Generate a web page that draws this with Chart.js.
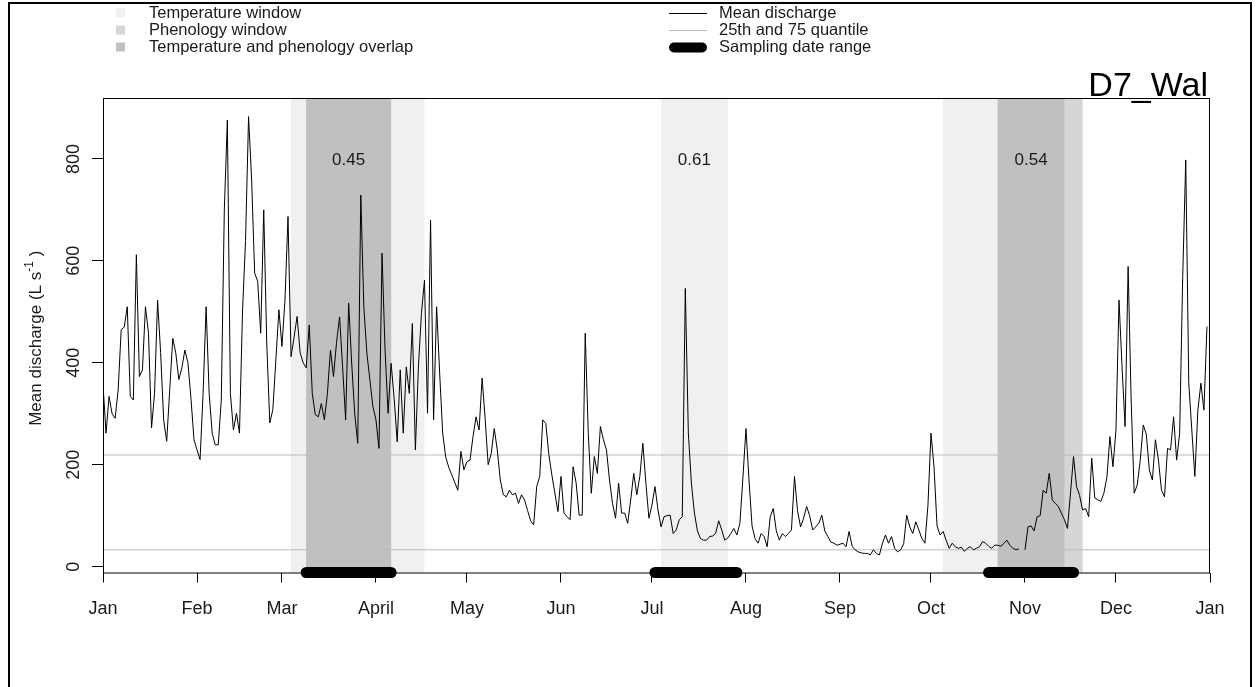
<!DOCTYPE html>
<html>
<head>
<meta charset="utf-8">
<title>D7_Wal mean discharge</title>
<script src="https://cdn.jsdelivr.net/npm/chart.js@4.4.1/dist/chart.umd.min.js"></script>
<style>
  html, body { margin: 0; padding: 0; background: #fff; }
  #wrap { width: 1259px; height: 687px; }
</style>
</head>
<body>
<div id="wrap"><canvas id="dischargeChart" width="1259" height="687"></canvas></div>
<script>
// daily mean discharge (L s-1), one array per month
const jan = [357, 262, 334, 300, 291, 347, 465, 470, 510, 334, 327, 612, 373, 386, 510, 458, 272, 340, 523, 420,
             288, 246, 347, 448, 419, 367, 390, 425, 400, 330, 249];
const feb = [229, 210, 340, 510, 340, 262, 239, 239, 327, 700, 876, 340, 268, 301, 262, 500, 640, 883, 760,
             576, 560, 458, 700, 437, 282, 308, 406, 504];
const mar = [432, 523, 687, 412, 450, 491, 420, 400, 390, 474, 340, 298, 294, 320, 288, 340, 425, 373, 440, 490, 392,
             288, 517, 399, 300, 242, 729, 510, 419, 366, 314];
const apr = [288, 232, 615, 425, 301, 399, 330, 245, 386, 262, 392, 340, 477, 229, 392, 497, 562, 301, 680, 288,
             510, 380, 262, 215, 195, 180, 165, 150, 226, 190];
const may = [206, 209, 255, 294, 268, 370, 290, 200, 222, 271, 229, 170, 141, 137, 150, 141, 144, 124, 141, 131,
             110, 90, 82, 157, 177, 288, 281, 220, 180, 144, 108];
const jun = [177, 105, 98, 92, 196, 164, 101, 101, 458, 262, 144, 216, 183, 275, 249, 229, 170, 124, 95,
             164, 105, 105, 85, 131, 183, 141, 177, 242, 164, 95];
const jul = [121, 157, 111, 78, 98, 100, 101, 65, 72, 92, 98, 546, 262, 164, 105, 70, 55, 52, 52,
             59, 60, 65, 90, 72, 52, 56, 65, 75, 62, 85, 175];
const aug = [271, 170, 80, 55, 46, 65, 59, 39, 98, 114, 70, 52, 65, 59, 65, 72, 177, 110,
             78, 95, 118, 100, 72, 78, 85, 101, 70, 59, 48, 46, 42];
const sep = [44, 46, 39, 69, 40, 33, 29, 27, 26, 26, 23, 33, 26, 23, 46, 62, 46,
             59, 36, 29, 33, 45, 101, 78, 65, 88, 72, 55, 46, 120];
const oct = [262, 196, 80, 62, 69, 52, 36, 46, 39, 36, 38, 30, 36, 39, 33, 36, 39,
             49, 46, 40, 36, 42, 42, 40, 45, 52, 42, 36, 33, 35, null];
const nov = [33, 78, 80, 70, 98, 100, 150, 144, 183, 131, 124, 118, 105, 92, 75, 144,
             216, 157, 140, 111, 114, 98, 213, 135, 131, 128, 144, 175, 255, 196];
const dec = [268, 523, 392, 275, 589, 327, 144, 160, 209, 278, 260, 190, 170, 249, 209, 150,
             137, 232, 229, 294, 209, 262, 569, 798, 360, 268, 177, 307, 360, 307, 471];

// axis ticks (day of year)
const monthStarts = [0, 31, 59, 90, 120, 151, 181, 212, 243, 273, 304, 334, 365];
const monthLabels = ["Jan", "Feb", "Mar", "April", "May", "Jun", "Jul", "Aug", "Sep", "Oct", "Nov", "Dec", "Jan"];
const yTicks = [0, 200, 400, 600, 800];

// 25th and 75th quantile of discharge
const quantiles = [33, 219];

// windows as [first day, last day]
const tempWindows = [[62, 106], [184, 206], [277, 317]];
const phenoWindows = [[67, 95], [295, 323]];
const samplingRanges = [[67, 95], [182, 209], [292, 320]];
const corrValues = ["0.45", "0.61", "0.54"];

const siteName = "D7_Wal";

const TEMP_COL = "#f0f0f0";
const PHENO_COL = "#d6d6d6";
const OVERLAP_COL = "#c0c0c0";
const QUANT_COL = "#bdbdbd";
const TEXT_COL = "#1a1a1a";
const FONT = "'Liberation Sans', Arial, sans-serif";

const Y_MIN = -11.5, Y_MAX = 919.5;

const discharge = [].concat(jan, feb, mar, apr, may, jun, jul, aug, sep, oct, nov, dec);

function overlapOf(t) {
  for (const p of phenoWindows) {
    const lo = Math.max(t[0], p[0]), hi = Math.min(t[1], p[1]);
    if (hi > lo) return [lo, hi];
  }
  return null;
}

const windowPlugin = {
  id: "windows",
  beforeDatasetsDraw(chart) {
    const { ctx, chartArea: a, scales: { x } } = chart;
    ctx.save();
    const band = (from, to, col) => {
      const x0 = x.getPixelForValue(from), x1 = x.getPixelForValue(to);
      ctx.fillStyle = col;
      ctx.fillRect(x0, a.top, x1 - x0, a.bottom - a.top);
    };
    tempWindows.forEach(w => band(w[0], w[1], TEMP_COL));
    phenoWindows.forEach(w => band(w[0], w[1], PHENO_COL));
    tempWindows.forEach(w => {
      const o = overlapOf(w);
      if (o) band(o[0], o[1], OVERLAP_COL);
    });
    ctx.restore();
  },
  afterDatasetsDraw(chart) {
    const { ctx, chartArea: a, scales: { x, y } } = chart;
    ctx.save();
    // plot box
    ctx.strokeStyle = "#000";
    ctx.lineWidth = 1;
    ctx.strokeRect(a.left + 0.5, a.top + 0.5, a.right - a.left - 1, a.bottom - a.top);
    // correlation labels
    ctx.fillStyle = TEXT_COL;
    ctx.font = "17px " + FONT;
    ctx.textAlign = "center";
    ctx.textBaseline = "middle";
    tempWindows.forEach((w, i) => {
      const o = overlapOf(w) || w;
      ctx.fillText(corrValues[i], x.getPixelForValue((o[0] + o[1]) / 2), y.getPixelForValue(797));
    });
    ctx.restore();
  },
  afterDraw(chart) {
    const { ctx, chartArea: a, scales: { y } } = chart;
    ctx.save();
    ctx.fillStyle = TEXT_COL;

    // y tick labels, rotated like R's default
    ctx.font = "18px " + FONT;
    ctx.textAlign = "center";
    ctx.textBaseline = "middle";
    yTicks.forEach(v => {
      ctx.save();
      ctx.translate(74, y.getPixelForValue(v));
      ctx.rotate(-Math.PI / 2);
      ctx.fillText(String(v), 0, 0);
      ctx.restore();
    });

    // y axis title with superscript
    ctx.save();
    ctx.translate(35, (a.top + a.bottom) / 2 + 3);
    ctx.rotate(-Math.PI / 2);
    const main = "Mean discharge (L s", sup = "-1", tail = " )";
    ctx.font = "17px " + FONT;
    const wMain = ctx.measureText(main).width, wTail = ctx.measureText(tail).width;
    ctx.font = "12px " + FONT;
    const wSup = ctx.measureText(sup).width;
    let cx = -(wMain + wSup + wTail) / 2;
    ctx.textAlign = "left";
    ctx.textBaseline = "alphabetic";
    ctx.font = "17px " + FONT;
    ctx.fillText(main, cx, 6);
    cx += wMain;
    ctx.font = "12px " + FONT;
    ctx.fillText(sup, cx, -2);
    cx += wSup;
    ctx.font = "17px " + FONT;
    ctx.fillText(tail, cx, 6);
    ctx.restore();

    // legends
    const rows = [13, 30, 47];
    ctx.font = "16.5px " + FONT;
    ctx.textAlign = "left";
    ctx.textBaseline = "middle";
    const fillItems = [["Temperature window", TEMP_COL], ["Phenology window", PHENO_COL],
                       ["Temperature and phenology overlap", OVERLAP_COL]];
    fillItems.forEach((it, i) => {
      ctx.fillStyle = it[1];
      ctx.fillRect(116, rows[i] - 4.5, 9, 9);
      ctx.fillStyle = TEXT_COL;
      ctx.fillText(it[0], 149, rows[i]);
    });
    const lineItems = [["Mean discharge", "#000", 1, "butt"], ["25th and 75 quantile", QUANT_COL, 1, "butt"],
                       ["Sampling date range", "#000", 10, "round"]];
    lineItems.forEach((it, i) => {
      ctx.strokeStyle = it[1];
      ctx.lineWidth = it[2];
      ctx.lineCap = it[3];
      ctx.beginPath();
      const pad = it[3] === "round" ? 5 : 0;
      ctx.moveTo(669 + pad, rows[i] + 0.5);
      ctx.lineTo(707 - pad, rows[i] + 0.5);
      ctx.stroke();
      ctx.fillStyle = TEXT_COL;
      ctx.fillText(it[0], 719, rows[i]);
    });

    // site name
    ctx.font = "34px " + FONT;
    ctx.textAlign = "right";
    ctx.textBaseline = "alphabetic";
    ctx.fillStyle = "#000";
    ctx.fillText(siteName, a.right - 2, a.top - 2);

    // outer frame
    ctx.strokeStyle = "#000";
    ctx.lineWidth = 2;
    ctx.strokeRect(9, 3, 1242, 720);
    ctx.restore();
  }
};

const quantileSets = quantiles.map(q => ({
  label: "25th and 75 quantile",
  data: [{ x: 0, y: q }, { x: 365, y: q }],
  borderColor: QUANT_COL,
  borderWidth: 1,
  pointRadius: 0,
  order: 3
}));

const samplingSets = samplingRanges.map(r => ({
  label: "Sampling date range",
  data: [{ x: r[0], y: Y_MIN }, { x: r[1], y: Y_MIN }],
  borderColor: "#000",
  borderWidth: 11,
  borderCapStyle: "round",
  pointRadius: 0,
  clip: false,
  order: 0
}));

const ctx = document.getElementById("dischargeChart");

new Chart(ctx, {
  type: "line",
  data: {
    datasets: [
      ...samplingSets,
      {
        label: "Mean discharge",
        data: discharge.map((v, i) => ({ x: i, y: v })),
        borderColor: "#000",
        borderWidth: 1,
        pointRadius: 0,
        tension: 0,
        spanGaps: false,
        order: 1
      },
      ...quantileSets
    ]
  },
  options: {
    responsive: false,
    animation: false,
    layout: { padding: { left: 0, right: 49, top: 98, bottom: 0 } },
    plugins: {
      legend: { display: false },
      tooltip: { enabled: false }
    },
    scales: {
      x: {
        type: "linear",
        min: 0,
        max: 365,
        afterBuildTicks: s => { s.ticks = monthStarts.map(v => ({ value: v })); },
        afterFit: s => { s.height = 114.5; },
        ticks: {
          autoSkip: false,
          maxRotation: 0,
          padding: 16,
          color: TEXT_COL,
          font: { size: 18, family: FONT },
          callback: v => monthLabels[monthStarts.indexOf(v)]
        },
        grid: { drawOnChartArea: false, drawTicks: true, tickLength: 10, color: "#000" },
        border: { display: false }
      },
      y: {
        min: Y_MIN,
        max: Y_MAX,
        afterBuildTicks: s => { s.ticks = yTicks.map(v => ({ value: v })); },
        afterFit: s => { s.width = 103; },
        ticks: { display: false },
        grid: { drawOnChartArea: false, drawTicks: true, tickLength: 11, color: "#000" },
        border: { display: false }
      }
    }
  },
  plugins: [windowPlugin]
});
</script>
</body>
</html>
